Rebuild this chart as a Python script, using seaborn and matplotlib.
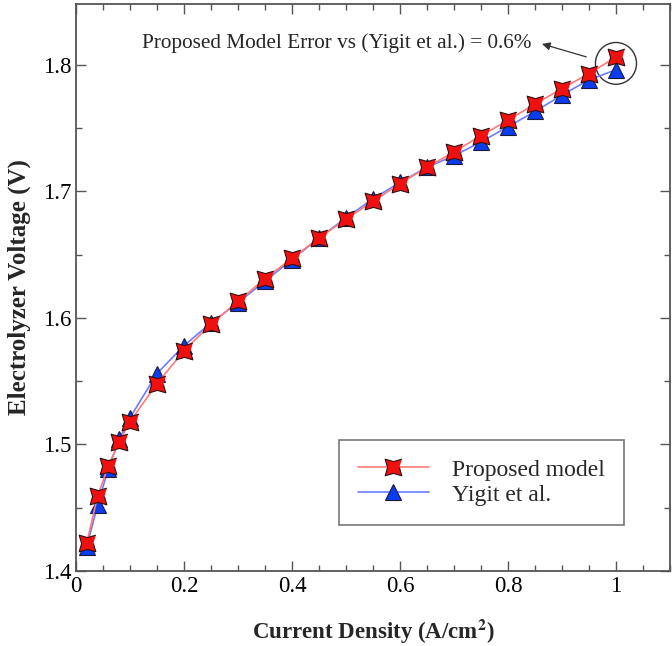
import numpy as np
import pandas as pd
import seaborn as sns
from matplotlib import pyplot as plt
from matplotlib.patches import Ellipse
from matplotlib.ticker import MultipleLocator, FormatStrFormatter

current_density = [0.02, 0.04, 0.06, 0.08, 0.10, 0.15, 0.20, 0.25, 0.30, 0.35, 0.40,
                   0.45, 0.50, 0.55, 0.60, 0.65, 0.70, 0.75, 0.80, 0.85, 0.90, 0.95, 1.00]
proposed_model = [1.422, 1.459, 1.483, 1.502, 1.518, 1.548, 1.574, 1.595, 1.613, 1.631, 1.647,
                  1.663, 1.678, 1.692, 1.706, 1.719, 1.731, 1.744, 1.756, 1.769, 1.781, 1.793, 1.806]
yigit_et_al = [1.419, 1.452, 1.481, 1.504, 1.521, 1.556, 1.578, 1.596, 1.612, 1.629, 1.646,
               1.663, 1.679, 1.694, 1.707, 1.719, 1.728, 1.739, 1.751, 1.763, 1.776, 1.788, 1.796]

# 4-point star turned 45 degrees (the x-shaped marker of the original)
ang = np.deg2rad(np.arange(45, 405, 45))
rad = np.where(np.arange(8) % 2 == 0, 1.0, 0.5)
star = np.column_stack([rad * np.cos(ang), rad * np.sin(ang)])

sns.set_style("ticks")
plt.rcParams['font.family'] = ['Liberation Serif', 'DejaVu Serif']
plt.rcParams['mathtext.fontset'] = 'stix'

fig = plt.figure(figsize=(6.72, 6.46), dpi=100)
ax = fig.add_axes([0.113, 0.116, 0.884, 0.878])

df = pd.DataFrame({"x": current_density, "proposed": proposed_model, "yigit": yigit_et_al})

#------------ blue first so the red stars sit on top ------------
sns.lineplot(data=df, x="x", y="yigit", ax=ax, color="#6a7dff", lw=1.2,
             marker="^", markersize=11, markerfacecolor="#0a3cf0",
             markeredgecolor="#1a1a40", markeredgewidth=0.8, label="Yigit et al.")
sns.lineplot(data=df, x="x", y="proposed", ax=ax, color="#ff7a7a", lw=1.2,
             marker=star, markersize=12, markerfacecolor="#f01010",
             markeredgecolor="#301010", markeredgewidth=0.8, label="Proposed model")

ax.set_xlim(0, 1.1)
ax.set_ylim(1.4, 1.848)
ax.xaxis.set_major_locator(MultipleLocator(0.2))
ax.xaxis.set_minor_locator(MultipleLocator(0.05))
ax.yaxis.set_major_locator(MultipleLocator(0.1))
ax.yaxis.set_minor_locator(MultipleLocator(0.05))
ax.xaxis.set_major_formatter(FormatStrFormatter('%g'))
ax.yaxis.set_major_formatter(FormatStrFormatter('%g'))
ax.tick_params(which="both", direction="in", top=True, right=True, colors="#555555",
               labelcolor="black", labelsize=16.5)
ax.tick_params(which="major", length=7, width=1)
ax.tick_params(which="minor", length=4, width=1)
for s in ax.spines.values():
    s.set_color("#555555")
    s.set_linewidth(1.3)

ax.set_xlabel("Current Density (A/cm$^\\mathbf{2}$)", fontsize=16.5, fontweight="bold", labelpad=15)
ax.set_ylabel("Electrolyzer Voltage (V)", fontsize=18, fontweight="bold", labelpad=8)

#-------------------- annotation --------------------
ax.add_patch(Ellipse((1.0, 1.801), width=0.076, height=0.033, fill=False,
                     edgecolor="#333333", lw=1.0))
ax.annotate("", xy=(0.858, 1.817), xytext=(0.95, 1.8055),
            arrowprops=dict(arrowstyle="-|>", color="#333333", lw=0.9, mutation_scale=12))
ax.text(0.844, 1.817, "Proposed Model Error vs (Yigit et al.) = 0.6%", fontsize=15.3,
        ha="right", va="center")

h, l = ax.get_legend_handles_labels()
leg = ax.legend(h[::-1], l[::-1], loc="lower right", bbox_to_anchor=(0.923, 0.082),
                fontsize=17, frameon=True, fancybox=False, edgecolor="#555555",
                handlelength=3.0, numpoints=1, borderpad=0.8, labelspacing=0.15,
                handletextpad=1.0, borderaxespad=0)
leg.get_frame().set_linewidth(1.2)

fig.savefig("out.png", dpi=100)
